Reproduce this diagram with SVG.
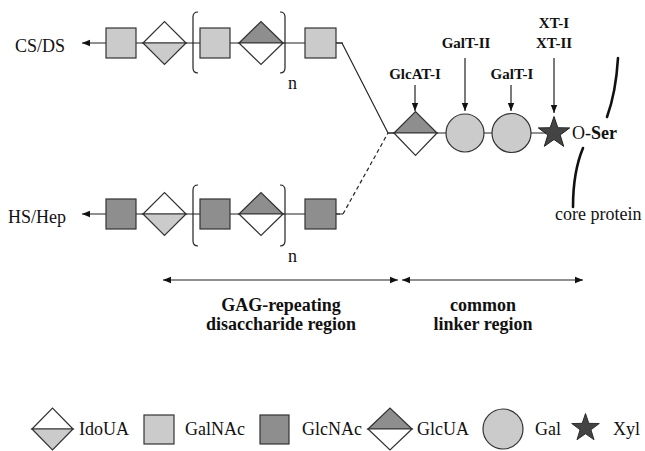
<svg xmlns="http://www.w3.org/2000/svg" width="645" height="451" viewBox="0 0 645 451">
<style>
.ln{stroke:#222;stroke-width:1.2;fill:none}
.sh{stroke:#333;stroke-width:1.2}
.lt{fill:#cbcbcb}
.dk{fill:#8e8e8e}
.wh{fill:#fff}
.st{fill:#444;stroke:#222;stroke-width:1}
.t{font-family:"Liberation Serif","Times New Roman",serif;font-size:18px;fill:#111}
.b{font-family:"Liberation Serif","Times New Roman",serif;font-size:15px;font-weight:bold;fill:#111;text-anchor:middle}
.bb{font-family:"Liberation Serif","Times New Roman",serif;font-size:18px;font-weight:bold;fill:#111;text-anchor:middle}
.cp{stroke:#111;stroke-width:2.6;fill:none;stroke-linecap:round}
</style>
<defs>
<marker id="ah" viewBox="0 0 10 10" refX="10" refY="5" markerWidth="8" markerHeight="8" markerUnits="userSpaceOnUse" orient="auto-start-reverse">
<path d="M0,1 L10,5 L0,9 Z" fill="#111"/>
</marker>
<path id="star" d="M0,-16.5 L3.82,-5.26 L15.69,-5.1 L6.18,2.01 L9.7,13.35 L0,6.5 L-9.7,13.35 L-6.18,2.01 L-15.69,-5.1 L-3.82,-5.26 Z"/>
</defs>

<g id="connectors">
<line class="ln" x1="343" y1="43" x2="82" y2="43" marker-end="url(#ah)"/>
<polyline class="ln" points="336,43 342,43 388,133 395,133"/>
<line class="ln" x1="343" y1="214" x2="82" y2="214" marker-end="url(#ah)"/>
<path class="ln" d="M336,214 L343,214 L388,133" stroke-dasharray="4,3"/>
<line class="ln" x1="388" y1="133" x2="555" y2="133"/>
<line class="ln" x1="415" y1="85" x2="415" y2="111" marker-end="url(#ah)"/>
<line class="ln" x1="465" y1="58" x2="465" y2="111" marker-end="url(#ah)"/>
<line class="ln" x1="511" y1="85" x2="511" y2="111" marker-end="url(#ah)"/>
<line class="ln" x1="554" y1="58" x2="554" y2="113" marker-end="url(#ah)"/>
<line class="ln" x1="163" y1="280" x2="398" y2="280" marker-start="url(#ah)" marker-end="url(#ah)"/>
<line class="ln" x1="402" y1="280" x2="583" y2="280" marker-start="url(#ah)" marker-end="url(#ah)"/>
</g>

<g id="cs-ds">
<text class="t" x="15" y="52">CS/DS</text>
<rect class="sh lt" x="106" y="28" width="30" height="30"/>
<path class="sh wh" d="M143,43 L164.5,21.5 L186,43 Z"/>
<path class="sh lt" d="M143,43 L164.5,64.5 L186,43 Z"/>
<path class="ln" d="M198,12 Q193,12 193,17 L193,68 Q193,73 198,73"/>
<rect class="sh lt" x="200" y="28" width="30" height="30"/>
<path class="sh dk" d="M239,43 L261,21.5 L283,43 Z"/>
<path class="sh wh" d="M239,43 L261,64.5 L283,43 Z"/>
<path class="ln" d="M280,12 Q285,12 285,17 L285,68 Q285,73 280,73"/>
<text class="t" x="288" y="89">n</text>
<rect class="sh lt" x="305" y="28" width="31" height="30"/>
</g>

<g id="hs-hep">
<text class="t" x="8" y="223">HS/Hep</text>
<rect class="sh dk" x="106" y="199" width="30" height="30"/>
<path class="sh wh" d="M143,214 L164.5,192.5 L186,214 Z"/>
<path class="sh lt" d="M143,214 L164.5,235.5 L186,214 Z"/>
<path class="ln" d="M198,185 Q193,185 193,190 L193,241 Q193,246 198,246"/>
<rect class="sh dk" x="200" y="199" width="30" height="30"/>
<path class="sh dk" d="M239,214 L261,192.5 L283,214 Z"/>
<path class="sh wh" d="M239,214 L261,235.5 L283,214 Z"/>
<path class="ln" d="M280,185 Q285,185 285,190 L285,241 Q285,246 280,246"/>
<text class="t" x="288" y="262">n</text>
<rect class="sh dk" x="305" y="199" width="31" height="30"/>
</g>

<g id="linker">
<path class="sh dk" d="M394,133 L415.5,111.5 L437,133 Z"/>
<path class="sh wh" d="M394,133 L415.5,155.5 L437,133 Z"/>
<circle class="sh lt" cx="465" cy="133" r="19"/>
<circle class="sh lt" cx="511.5" cy="133" r="19.5"/>
<use href="#star" class="st" x="554" y="133"/>
</g>

<g id="enzymes">
<text class="b" x="415" y="79">GlcAT-I</text>
<text class="b" x="466" y="48">GalT-II</text>
<text class="b" x="512" y="79">GalT-I</text>
<text class="b" x="554" y="28">XT-I</text>
<text class="b" x="554" y="48">XT-II</text>
</g>

<g id="core-protein">
<text class="t" x="572" y="139">O-<tspan font-weight="bold">Ser</tspan></text>
<path class="cp" d="M618,58 Q616,92 607,117"/>
<path class="cp" d="M583,148 Q573,172 573,207"/>
<text class="t" x="555" y="220">core protein</text>
</g>

<g id="regions">
<text class="bb" x="281" y="311">GAG-repeating</text>
<text class="bb" x="281" y="330">disaccharide region</text>
<text class="bb" x="483" y="311">common</text>
<text class="bb" x="483" y="330">linker region</text>
</g>

<g id="legend">
<path class="sh wh" d="M32,429 L52.5,408 L73,429 Z"/>
<path class="sh lt" d="M32,429 L52.5,450 L73,429 Z"/>
<text class="t" x="79" y="435">IdoUA</text>
<rect class="sh lt" x="144" y="415" width="30" height="29"/>
<text class="t" x="185" y="435">GalNAc</text>
<rect class="sh dk" x="260" y="415" width="29" height="29"/>
<text class="t" x="302" y="435">GlcNAc</text>
<path class="sh dk" d="M368,429 L390,408 L412,429 Z"/>
<path class="sh wh" d="M368,429 L390,450 L412,429 Z"/>
<text class="t" x="417" y="435">GlcUA</text>
<circle class="sh lt" cx="503" cy="429" r="20"/>
<text class="t" x="535" y="435">Gal</text>
<use href="#star" class="st" transform="translate(585.5,428) scale(0.88)"/>
<text class="t" x="613" y="435">Xyl</text>
</g>
</svg>
